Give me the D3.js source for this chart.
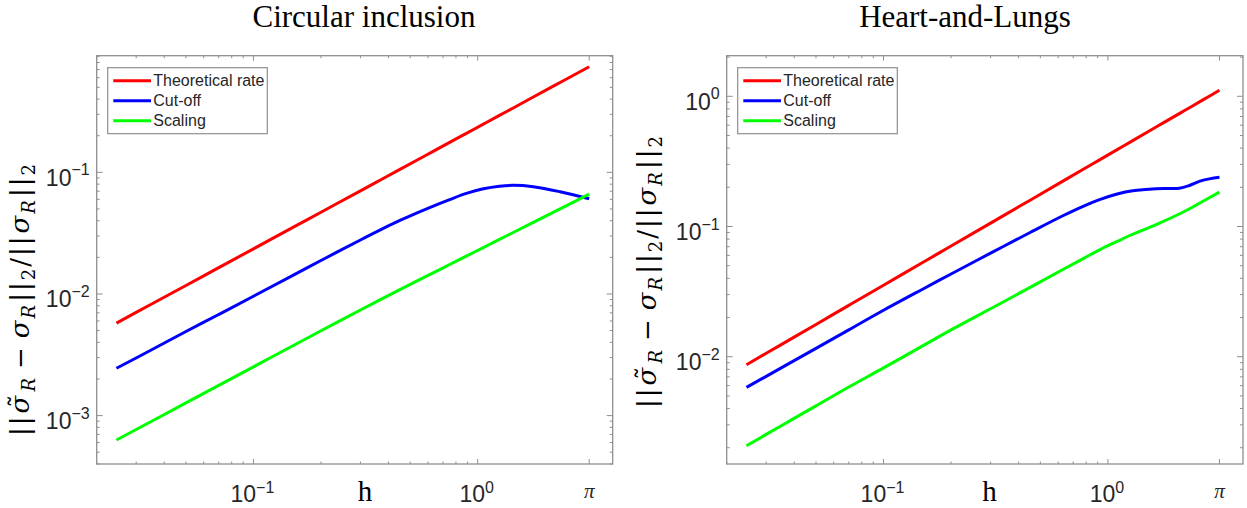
<!DOCTYPE html>
<html><head><meta charset="utf-8">
<script src="https://cdn.jsdelivr.net/npm/d3@7"></script>
<style>body{margin:0;background:#fff}svg{display:block}</style>
</head><body>
<svg id="chart" width="1247" height="508"></svg>
<script>
// ---------------- data ----------------
const seriesNames = ["Theoretical rate", "Cut-off", "Scaling"];
const seriesColors = ["#ff0000", "#0000ff", "#00ff00"];

// Left panel: Circular inclusion
const hLeft = [0.0245, 0.035, 0.05, 0.07, 0.1, 0.15, 0.2, 0.3, 0.37, 0.45, 0.54, 0.63, 0.75, 0.89, 1.06, 1.25, 1.44, 1.77, 2.33, 3.1416];
const leftTheoretical = [0.00576, 0.00823, 0.01175, 0.01645, 0.0235, 0.03525, 0.047, 0.0705, 0.08695, 0.1058, 0.1269, 0.148, 0.1763, 0.2092, 0.2491, 0.2938, 0.3384, 0.416, 0.5476, 0.7383];
const leftCutoff = [0.00245, 0.00346, 0.00491, 0.00678, 0.00958, 0.01422, 0.01883, 0.0278, 0.0338, 0.0402, 0.0467, 0.0526, 0.0597, 0.0671, 0.0732, 0.0769, 0.0782, 0.0762, 0.0693, 0.0607];
const leftScaling = [0.00063, 0.000895, 0.001272, 0.001772, 0.002518, 0.003754, 0.004984, 0.007386, 0.009014, 0.01086, 0.01286, 0.01484, 0.01746, 0.02047, 0.02408, 0.02807, 0.03202, 0.03879, 0.05009, 0.06614];

// Right panel: Heart-and-Lungs
const hRight = [0.0245, 0.035, 0.05, 0.07, 0.1, 0.15, 0.2, 0.3, 0.45, 0.63, 0.78, 0.918, 1.1, 1.29, 1.64, 2.08, 2.31, 2.64, 3.1416];
const rightTheoretical = [0.00867, 0.01239, 0.0177, 0.02478, 0.0354, 0.0531, 0.0708, 0.1062, 0.1593, 0.223, 0.2761, 0.325, 0.3894, 0.4567, 0.5806, 0.7363, 0.8177, 0.9346, 1.112];
const rightCutoff = [0.00581, 0.00821, 0.0116, 0.01608, 0.02273, 0.03314, 0.04318, 0.06245, 0.08995, 0.1209, 0.1435, 0.1608, 0.1775, 0.188, 0.195, 0.197, 0.2066, 0.226, 0.239];
const rightScaling = [0.00207, 0.00295, 0.00419, 0.00585, 0.00821, 0.01216, 0.01607, 0.02336, 0.0341, 0.0468, 0.05697, 0.0662, 0.0768, 0.0872, 0.1035, 0.1248, 0.1368, 0.1556, 0.1836];

// tick values / labels
const xTickValues = [0.1, 1, Math.PI];
const xTickLabels = [["10", "−1"], ["10", "0"], ["π", ""]];
const leftYTickValues = [1e-3, 1e-2, 1e-1];
const leftYTickLabels = [["10", "−3"], ["10", "−2"], ["10", "−1"]];
const rightYTickValues = [1e-2, 1e-1, 1];
const rightYTickLabels = [["10", "−2"], ["10", "−1"], ["10", "0"]];
const titles = ["Circular inclusion", "Heart-and-Lungs"];
const xLabelText = "h";

// ---------------- drawing ----------------
const svg = d3.select("#chart");
const axisColor = "#8f8f8f";
const textColor = "#262626";
const sansFont = "'Liberation Sans', Arial, Helvetica, sans-serif";
const serifFont = "'Liberation Serif', 'Times New Roman', serif";
const mathFont = "'DejaVu Serif', 'Liberation Serif', serif";

const panels = [
  { left: 96.7, right: 612.7, top: 55.7, bottom: 464, xDomain: [0.02, 4], yDomain: [4e-4, 0.91],
    h: hLeft, series: [leftTheoretical, leftCutoff, leftScaling],
    yTicks: leftYTickValues, yLabels: leftYTickLabels, title: titles[0], titleX: 364, hX: 365, ylabX: 29, ylabY: 300 },
  { left: 726.7, right: 1243, top: 55.7, bottom: 464, xDomain: [0.02, 4], yDomain: [1.5e-3, 2.05],
    h: hRight, series: [rightTheoretical, rightCutoff, rightScaling],
    yTicks: rightYTickValues, yLabels: rightYTickLabels, title: titles[1], titleX: 965, hX: 989.5, ylabX: 656, ylabY: 272 }
];

function minorTicks(domain, maxVal) {
  const out = [];
  const lo = Math.floor(Math.log10(domain[0])), hi = Math.ceil(Math.log10(domain[1]));
  for (let e = lo; e <= hi; e++) {
    for (let m = 2; m <= 9; m++) {
      const v = m * Math.pow(10, e);
      if (v >= domain[0] && v <= Math.min(domain[1], maxVal)) out.push(v);
    }
  }
  return out;
}

panels.forEach(p => {
  const g = svg.append("g");
  const x = d3.scaleLog().domain(p.xDomain).range([p.left, p.right]);
  const y = d3.scaleLog().domain(p.yDomain).range([p.bottom, p.top]);

  // lines
  const line = d3.line().x(d => x(d[0])).y(d => y(d[1])).curve(d3.curveCatmullRom.alpha(0.5));
  p.series.forEach((vals, i) => {
    const pts = p.h.map((hv, j) => [hv, vals[j]]);
    g.append("path").attr("d", line(pts)).attr("fill", "none")
      .attr("stroke", seriesColors[i]).attr("stroke-width", 3).attr("stroke-linecap", "butt");
  });

  // box
  g.append("rect").attr("x", p.left).attr("y", p.top).attr("width", p.right - p.left)
    .attr("height", p.bottom - p.top).attr("fill", "none").attr("stroke", axisColor).attr("stroke-width", 1.3);

  // x ticks (bottom & top)
  const xMin = minorTicks(p.xDomain, 1).filter(v => Math.abs(Math.log10(v) - Math.round(Math.log10(v))) > 1e-9);
  const xt = g.append("g").attr("stroke", axisColor).attr("stroke-width", 1);
  xMin.forEach(v => {
    xt.append("line").attr("x1", x(v)).attr("x2", x(v)).attr("y1", p.bottom).attr("y2", p.bottom - 2.5);
    xt.append("line").attr("x1", x(v)).attr("x2", x(v)).attr("y1", p.top).attr("y2", p.top + 2.5);
  });
  xTickValues.forEach(v => {
    xt.append("line").attr("x1", x(v)).attr("x2", x(v)).attr("y1", p.bottom).attr("y2", p.bottom - 5);
    xt.append("line").attr("x1", x(v)).attr("x2", x(v)).attr("y1", p.top).attr("y2", p.top + 5);
  });
  // y ticks (left & right)
  const yMin = minorTicks(p.yDomain, Infinity).filter(v => Math.abs(Math.log10(v) - Math.round(Math.log10(v))) > 1e-9);
  yMin.forEach(v => {
    xt.append("line").attr("y1", y(v)).attr("y2", y(v)).attr("x1", p.left).attr("x2", p.left + 3);
    xt.append("line").attr("y1", y(v)).attr("y2", y(v)).attr("x1", p.right).attr("x2", p.right - 3);
  });
  p.yTicks.forEach(v => {
    xt.append("line").attr("y1", y(v)).attr("y2", y(v)).attr("x1", p.left).attr("x2", p.left + 6);
    xt.append("line").attr("y1", y(v)).attr("y2", y(v)).attr("x1", p.right).attr("x2", p.right - 6);
  });

  // x tick labels
  xTickValues.forEach((v, i) => {
    const lab = xTickLabels[i];
    if (lab[1] === "") {
      g.append("text").attr("x", x(v)).attr("y", 498).attr("text-anchor", "middle")
        .attr("font-family", serifFont).attr("font-style", "italic").attr("font-size", 21)
        .attr("fill", textColor).text(lab[0]);
    } else {
      const t = g.append("text").attr("x", x(v) - 1).attr("y", 502).attr("text-anchor", "middle")
        .attr("font-family", sansFont).attr("font-size", 23).attr("fill", textColor);
      t.append("tspan").text(lab[0]);
      t.append("tspan").attr("font-size", 16).attr("dy", -9).text(lab[1]);
    }
  });
  // y tick labels
  p.yTicks.forEach((v, i) => {
    const lab = p.yLabels[i];
    const t = g.append("text").attr("x", p.left - 7).attr("y", y(v) + 13.5).attr("text-anchor", "end")
      .attr("font-family", sansFont).attr("font-size", 23).attr("fill", textColor);
    t.append("tspan").text(lab[0]);
    t.append("tspan").attr("font-size", 16).attr("dy", -10.5).text(lab[1]);
  });

  // title
  g.append("text").attr("x", p.titleX).attr("y", 27).attr("text-anchor", "middle")
    .attr("font-family", serifFont).attr("font-size", 31).attr("fill", "#000").text(p.title);
  // x label
  g.append("text").attr("x", p.hX).attr("y", 501).attr("text-anchor", "middle")
    .attr("font-family", serifFont).attr("font-size", 29).attr("fill", "#000").text(xLabelText);

  // y label
  const yl = g.append("text").attr("transform", `translate(${p.ylabX},${p.ylabY}) rotate(-90)`)
    .attr("text-anchor", "middle").attr("font-family", mathFont).attr("font-size", 26).attr("fill", "#000")
    .attr("textLength", 272).attr("lengthAdjust", "spacing");
  // [text, dx, dy, italic, size]
  const parts = [
    ["||", 0, 0, false, 26], ["σ", 1, 0, true, 26], ["˜", -14, -1, false, 26], ["R", 1, 7, true, 18],
    ["−", 7, -6, false, 26], ["σ", 7, 0, true, 26], ["R", 0, 6, true, 18], ["||", 1, -6, false, 26],
    ["2", 0, 6, false, 18], ["/||", 0, -6, false, 26], ["σ", 1, 0, true, 26], ["R", 0, 6, true, 18],
    ["||", 1, -6, false, 26], ["2", 0, 6, false, 18]
  ];
  parts.forEach(pt => {
    yl.append("tspan").attr("dx", pt[1]).attr("dy", pt[2]).attr("font-style", pt[3] ? "italic" : "normal")
      .attr("font-size", pt[4]).text(pt[0]);
  });

  // legend
  const lx = p.left + 11, ly = p.top + 12;
  const lg = g.append("g");
  lg.append("rect").attr("x", lx).attr("y", ly).attr("width", 159.6).attr("height", 66)
    .attr("fill", "#fff").attr("stroke", axisColor).attr("stroke-width", 1.2);
  seriesNames.forEach((name, i) => {
    const ry = ly + 13 + i * 20;
    lg.append("line").attr("x1", lx + 5.6).attr("x2", lx + 43.3).attr("y1", ry).attr("y2", ry)
      .attr("stroke", seriesColors[i]).attr("stroke-width", 3);
    lg.append("text").attr("x", lx + 45.6).attr("y", ry + 5.5).attr("font-family", sansFont)
      .attr("font-size", 16).attr("fill", textColor).text(name);
  });
});
</script>
</body></html>
